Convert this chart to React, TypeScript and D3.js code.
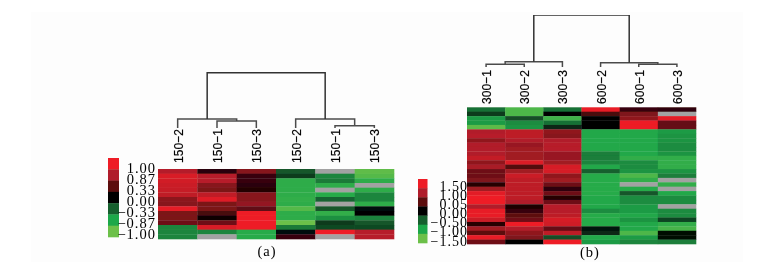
import React from "react";
import * as d3 from "d3";

const N = null;
const labelsA = ["150−2", "150−1", "150−3", "150−2", "150−1", "150−3"];
const labelsB = ["300−1", "300−2", "300−3", "600−2", "600−1", "600−3"];
const legendA = ["1.00", "0.87", "0.33", "0.00", "−0.33", "−0.87", "−1.00"];
const legendB = ["1.50", "1.00", "0.05", "0.00", "−0.50", "−1.00", "−1.50"];
const swatches = [1, 0.66, 0.33, 0, -0.33, -0.66, -1];

const colA1 = [0.68, 0.88, 0.84, 0.8, 0.78, 0.74, 0.52, 0.5, 0.95, 0.45, 0.45, 0.4, -0.5, -0.5, -0.5];
const colA2 = [0.15, 0.7, 0.7, 0.5, 0.45, 0.75, 0.92, 0.45, 0.45, 0.25, 0.05, 0.4, 0.88, -0.5, N];
const colA3 = [0.5, 0.2, 0.2, 0.15, 0.12, 0.5, 0.5, 0.55, 0.35, 1, 1, 1, 1, -0.7, -0.7];
const colA4 = [-0.3, -0.2, -0.72, -0.72, -0.72, -0.72, -0.74, -0.72, -0.9, -0.72, -0.72, -1, -0.45, -0.05, 0.2];
const colA5 = [N, -0.5, -0.45, -0.72, N, -0.7, -0.35, N, -0.3, -0.75, -0.55, -0.2, -0.25, 1, N];
const colA6 = [-0.95, -0.9, -0.72, N, -0.72, -0.5, -0.5, -0.72, -0.05, 0, -0.5, -0.3, -0.25, 0.7, 0.7];
const matrixA = [colA1, colA2, colA3, colA4, colA5, colA6];

const colB1 = [-0.6, -0.3, -0.9, -0.9, -1.4, 1.0, 1.05, 0.8, 1.0, 1.0, 1.0, 1.15, 0.8, 0.95, 0.6, 0.6, 0.7, 0.2, 0.9, 1.4, 1.5, 1.5, 1.0, 1.45, 1.45, 1.2, 0.2, 0.9, 0.5, 1.45, 0.6];
const colB2 = [-1.3, -1.3, -0.4, -0.8, -0.85, 1.1, 1.1, 1.0, 0.85, 0.9, 0.9, 0.9, 1.35, 0.45, 0.9, 1.2, 1.1, 1.1, 1.1, 1.1, 1.1, 1.0, 0.15, 0.3, 0.5, 0.6, 1.5, 1.0, 0.8, 0.7, 0];
const colB3 = [-0.6, 0, -1.2, -0.6, -0.2, 0.8, 0.75, 1.0, 1.05, 1.05, 0.85, 0.85, 0.9, 1.3, 1.3, 0.8, 0.9, 0.6, 0.25, 0.6, 0.2, 0.6, 1.05, 1.05, 1.1, 1.3, 1.25, 0.55, 1.1, -0.4, 1.5];
const colB4 = [1.45, 0.4, 0, 0, 0, -1.0, -1.0, -1.0, -1.0, -1.0, -0.7, -0.7, -0.75, -1.0, -0.5, -1.05, -1.05, -1.05, -1.05, -1.05, -1.0, -1.0, -1.0, -0.8, -1.05, -1.05, -1.05, -0.1, -0.2, -1.0, -0.9];
const colB5 = [0.3, 0.7, 0.8, 1.5, 1.5, -1.0, -1.0, -1.0, -1.0, -1.0, -1.0, -1.1, -0.8, -0.8, -0.85, -1.3, -1.1, N, -1.05, -0.45, -0.8, -0.8, -0.9, -0.9, -1.0, -0.85, -1.0, -1.0, -1.3, -0.9, -0.75];
const colB6 = [0.25, N, 1.4, 0.55, 0.55, -0.9, -0.85, -0.85, -0.8, -0.8, -0.85, -1.1, -1.1, -1.1, -0.85, -0.7, N, -1.1, N, -1.0, -0.8, -0.8, N, -0.8, -0.8, -0.35, -1.1, -1.25, -0.05, -0.05, -0.7];
const matrixB = [colB1, colB2, colB3, colB4, colB5, colB6];

// dendrograms: leaves are column indexes, h is merge height
type Node = number | { h: number; kids: [Node, Node] };
const treeA: Node = { h: 1, kids: [{ h: 0.165, kids: [0, { h: 0.125, kids: [1, 2] }] }, { h: 0.165, kids: [3, { h: 0.04, kids: [4, 5] }] }] };
const treeB: Node = { h: 1, kids: [{ h: 0.1, kids: [{ h: 0.055, kids: [0, 1] }, 2] }, { h: 0.08, kids: [3, { h: 0.055, kids: [4, 5] }] }] };

const colorStops = [-1, -0.66, -0.33, 0, 0.33, 0.66, 1];
const colorRange = ["#6cc04a", "#1fa84a", "#17602f", "#000000", "#5c0a10", "#b01f29", "#ee1c25"];
const colorOf = d3.scaleLinear<string>().domain(colorStops).range(colorRange).clamp(true);
const GREY = "#a2a2a2";

function dendroPaths(tree: Node, x: (i: number) => number, y: d3.ScaleLinear<number, number>) {
  const segs: { d: string; root: boolean }[] = [];
  const walk = (n: Node): [number, number] => {
    if (typeof n === "number") return [x(n), 0];
    const [xa, ha] = walk(n.kids[0]);
    const [xb, hb] = walk(n.kids[1]);
    const p = d3.path();
    p.moveTo(xa, y(ha));
    p.lineTo(xa, y(n.h));
    p.lineTo(xb, y(n.h));
    p.lineTo(xb, y(hb));
    segs.push({ d: p.toString(), root: n.h === 1 });
    return [(xa + xb) / 2, n.h];
  };
  walk(tree);
  return segs;
}

function Panel(props: {
  matrix: (number | null)[][]; labels: string[]; legend: string[]; tree: Node; vmax: number;
  x0: number; x1: number; y0: number; y1: number; topY: number; leafY: number; labelY: number;
  lx: number; lw: number; ly0: number; ly1: number; ltx: number; lty0: number; lty1: number; lfs: number;
  caption: string; capX: number; capY: number;
}) {
  const p = props;
  const nRows = p.matrix[0].length;
  const xs = d3.scaleBand<number>().domain(d3.range(6)).range([p.x0, p.x1]);
  const ys = d3.scaleBand<number>().domain(d3.range(nRows)).range([p.y0, p.y1]);
  const t = d3.scaleLinear().domain([0, 1]).range([p.leafY, p.topY]);
  const cx = (i: number) => xs(i)! + xs.bandwidth() / 2;
  const ls = d3.scaleBand<number>().domain(d3.range(7)).range([p.ly0, p.ly1]);
  const lt = d3.scalePoint<number>().domain(d3.range(7)).range([p.lty0, p.lty1]);
  return (
    <g>
      {p.matrix.map((col, i) =>
        col.map((v, j) => (
          <rect key={i + "-" + j} x={xs(i)} y={ys(j)} width={xs.bandwidth() + 0.3} height={ys.bandwidth() + 0.3}
            fill={v === null ? GREY : colorOf(v / p.vmax)} />
        ))
      )}
      {dendroPaths(p.tree, cx, t).map((s, i) => (
        <path key={i} d={s.d} fill="none" stroke={s.root ? "#333" : "#4c4c4c"} strokeWidth={1.5} />
      ))}
      {p.labels.map((l, i) => (
        <text key={i} transform={`translate(${cx(i) + 5},${p.labelY}) rotate(-90)`}
          fontFamily="Liberation Sans" fontSize={13.5} textLength={34} lengthAdjust="spacingAndGlyphs"
          fill="#000" stroke="#000" strokeWidth={0.2}>{l}</text>
      ))}
      {swatches.map((s, i) => (
        <rect key={i} x={p.lx} y={ls(i)} width={p.lw} height={ls.bandwidth() + 0.3} fill={colorOf(s)} />
      ))}
      {p.legend.map((l, i) => (
        <text key={i} x={p.ltx} y={lt(i)! + 4.5} textAnchor="end" fontFamily="Liberation Serif" fontSize={p.lfs}
          letterSpacing={1} fill="#000">{l}</text>
      ))}
      <text x={p.capX} y={p.capY} textAnchor="middle" fontFamily="Liberation Serif" fontSize={14.5}
        letterSpacing={1} fill="#000">{p.caption}</text>
    </g>
  );
}

export default function App() {
  return (
    <svg width={773} height={269} style={{ position: "fixed", left: 0, top: 0 }}>
      <defs>
        <filter id="soft" x="0" y="0" width="100%" height="100%">
          <feGaussianBlur stdDeviation={0.45} />
        </filter>
      </defs>
      <rect width={773} height={269} fill="#ffffff" />
      <rect x={31} y={12} width={712} height={250} fill="#fdfdfd" />
      <g filter="url(#soft)">
        <Panel matrix={matrixA} labels={labelsA} legend={legendA} tree={treeA} vmax={1}
          x0={158} x1={394} y0={169} y1={239} topY={72.7} leafY={128} labelY={163}
          lx={108} lw={11} ly0={158} ly1={237} ltx={156} lty0={168} lty1={234} lfs={14.5}
          caption="(a)" capX={267} capY={256} />
        <Panel matrix={matrixB} labels={labelsB} legend={legendB} tree={treeB} vmax={1.5}
          x0={467} x1={696} y0={107.3} y1={244} topY={15} leafY={67} labelY={104}
          lx={418} lw={9.5} ly0={179} ly1={243} ltx={468} lty0={186} lty1={241} lfs={14}
          caption="(b)" capX={590} capY={257} />
      </g>
    </svg>
  );
}
